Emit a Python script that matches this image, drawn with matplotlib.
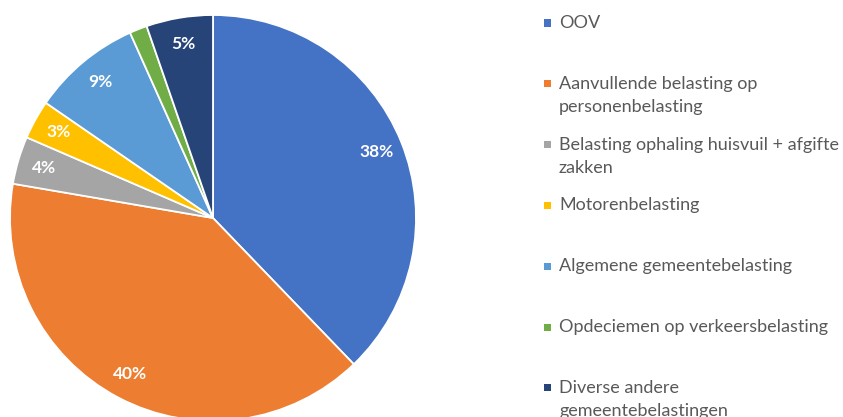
import matplotlib
matplotlib.use("Agg")
import matplotlib.pyplot as plt
from matplotlib.patches import Rectangle

categories = [
    "OOV",
    "Aanvullende belasting op\npersonenbelasting",
    "Belasting ophaling huisvuil + afgifte\nzakken",
    "Motorenbelasting",
    "Algemene gemeentebelasting",
    "Opdeciemen op verkeersbelasting",
    "Diverse andere\ngemeentebelastingen",
]
values = [37.8, 39.9, 3.8, 3.1, 8.7, 1.4, 5.3]
colors = ["#4472C4", "#ED7D31", "#A5A5A5", "#FFC000", "#5B9BD5", "#70AD47", "#264478"]

W, H = 843, 417
fig = plt.figure(figsize=(W / 100, H / 100), dpi=100)

cx, cy, R = 213, 218, 203
ax = fig.add_axes([(cx - R) / W, (H - cy - R) / H, 2 * R / W, 2 * R / H])

def fmt(p):
    return f"{p:.0f}%" if p >= 2 else ""

wedges, texts, autotexts = ax.pie(
    values, colors=colors, startangle=90, counterclock=False,
    autopct=fmt, pctdistance=0.87, radius=1,
    wedgeprops=dict(edgecolor="white", linewidth=1.3),
    textprops=dict(color="white", fontsize=12.5, fontweight="bold", family="Lato"),
)
ax.set_xlim(-1, 1)
ax.set_ylim(-1, 1)
ax.set_aspect("equal")
ax.axis("off")

# legend
x_mark, x_text = 547, 559
y0, dy = 23, 60.8
for i, (lab, col) in enumerate(zip(categories, colors)):
    y = y0 + i * dy
    fig.patches.append(Rectangle(((x_mark - 3.5) / W, 1 - (y + 3.5) / H), 7 / W, 7 / H,
                                 transform=fig.transFigure, facecolor=col, edgecolor="none"))
    for j, ln in enumerate(lab.split("\n")):
        fig.text(x_text / W, 1 - (y + j * 23) / H, ln, ha="left", va="center",
                 fontsize=13, color="#595959", family="Lato")

fig.savefig("out.png", dpi=100, facecolor="white")
